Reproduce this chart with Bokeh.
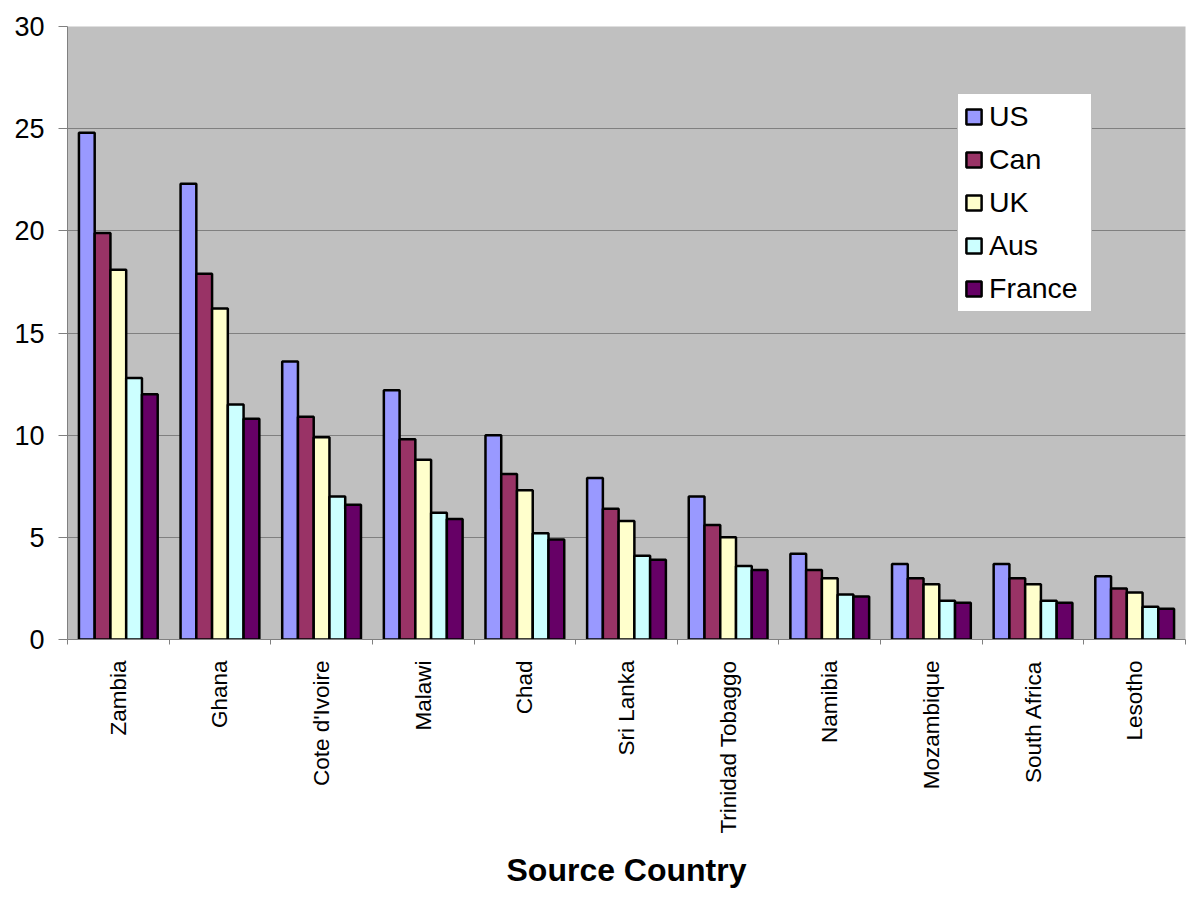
from bokeh.plotting import figure
from bokeh.models import (Range1d, LinearAxis, FixedTicker, ColumnDataSource, Legend, LegendItem)
from bokeh.transform import dodge
from bokeh.embed import file_html
from bokeh.resources import INLINE
import math

countries = ["Zambia", "Ghana", "Cote d'Ivoire", "Malawi", "Chad", "Sri Lanka",
             "Trinidad Tobaggo", "Namibia", "Mozambique", "South Africa", "Lesotho"]
series_names = ["US", "Can", "UK", "Aus", "France"]
us     = [24.8, 22.3, 13.6, 12.2, 10.0, 7.9, 7.0, 4.2, 3.7, 3.7, 3.1]
can    = [19.9, 17.9, 10.9, 9.8, 8.1, 6.4, 5.6, 3.4, 3.0, 3.0, 2.5]
uk     = [18.1, 16.2, 9.9, 8.8, 7.3, 5.8, 5.0, 3.0, 2.7, 2.7, 2.3]
aus    = [12.8, 11.5, 7.0, 6.2, 5.2, 4.1, 3.6, 2.2, 1.9, 1.9, 1.6]
france = [12.0, 10.8, 6.6, 5.9, 4.9, 3.9, 3.4, 2.1, 1.8, 1.8, 1.5]
colors = ["#9999FF", "#993366", "#FFFFCC", "#CCFFFF", "#660066"]
y_ticks = [0, 5, 10, 15, 20, 25, 30]
x_title = "Source Country"

n = len(countries)
centers = [i + 0.5 for i in range(n)]
bounds = list(range(n + 1))

data = dict(pos=centers, country=countries, US=us, Can=can, UK=uk, Aus=aus, France=france)
src = ColumnDataSource(data)

FONT = "Liberation Sans"

p = figure(x_range=Range1d(0, n), y_range=Range1d(0, 30),
           width=1192, height=890, output_backend="svg", toolbar_location=None,
           x_axis_location=None, y_axis_location=None,
           min_border_left=67, min_border_right=7, min_border_top=26, min_border_bottom=250)
p.background_fill_color = "#C0C0C0"
p.border_fill_color = "white"
p.outline_line_color = None

bw = 0.155
offsets = [-2 * bw, -bw, 0, bw, 2 * bw]
items = []
for name, col, off in zip(series_names, colors, offsets):
    r = p.vbar(x=dodge("pos", off), top=name, width=bw, source=src,
               fill_color=col, line_color="black", line_width=2.5)
    items.append(LegendItem(label=name, renderers=[r]))

# y axis
yax = LinearAxis(ticker=FixedTicker(ticks=y_ticks))
yax.axis_line_color = "#808080"
yax.major_tick_line_color = "#808080"
yax.major_tick_out = 9
yax.major_tick_in = 0
yax.minor_tick_line_color = None
yax.major_label_text_font = FONT
yax.major_label_text_font_size = "27px"
yax.major_label_text_color = "black"
yax.major_label_standoff = 14
p.add_layout(yax, "left")

# x axis: labels at centres, small ticks at boundaries
xax = LinearAxis(ticker=FixedTicker(ticks=centers, minor_ticks=bounds))
xax.major_label_overrides = {c: name for c, name in zip(centers, countries)}
xax.axis_line_color = "#808080"
xax.major_tick_line_color = None
xax.major_tick_out = 0
xax.major_tick_in = 0
xax.minor_tick_line_color = "#808080"
xax.minor_tick_out = 5
xax.minor_tick_in = 0
xax.major_label_orientation = math.pi / 2
xax.major_label_text_font = FONT
xax.major_label_text_font_size = "22.5px"
xax.major_label_text_color = "black"
xax.major_label_standoff = 16
xax.axis_label = x_title
xax.axis_label_text_font = FONT
xax.axis_label_text_font_style = "bold"
xax.axis_label_text_font_size = "32px"
xax.axis_label_text_color = "black"
xax.axis_label_standoff = 15
p.add_layout(xax, "below")

p.xgrid.visible = False
p.ygrid.ticker = FixedTicker(ticks=y_ticks[1:-1])
p.ygrid.grid_line_color = "#808080"
p.ygrid.grid_line_width = 1

legend = Legend(items=items, location=(890, 327))
legend.margin = 0
legend.padding = 6
legend.spacing = 10
legend.glyph_width = 19
legend.glyph_height = 19
legend.label_standoff = 6
legend.label_width = 96
legend.label_text_font = FONT
legend.label_text_font_size = "28.5px"
legend.label_text_color = "black"
legend.border_line_color = "#808080"
legend.border_line_width = 1
legend.background_fill_color = "white"
legend.background_fill_alpha = 1
p.add_layout(legend, "center")

open("out.html", "w").write(file_html(p, INLINE))
